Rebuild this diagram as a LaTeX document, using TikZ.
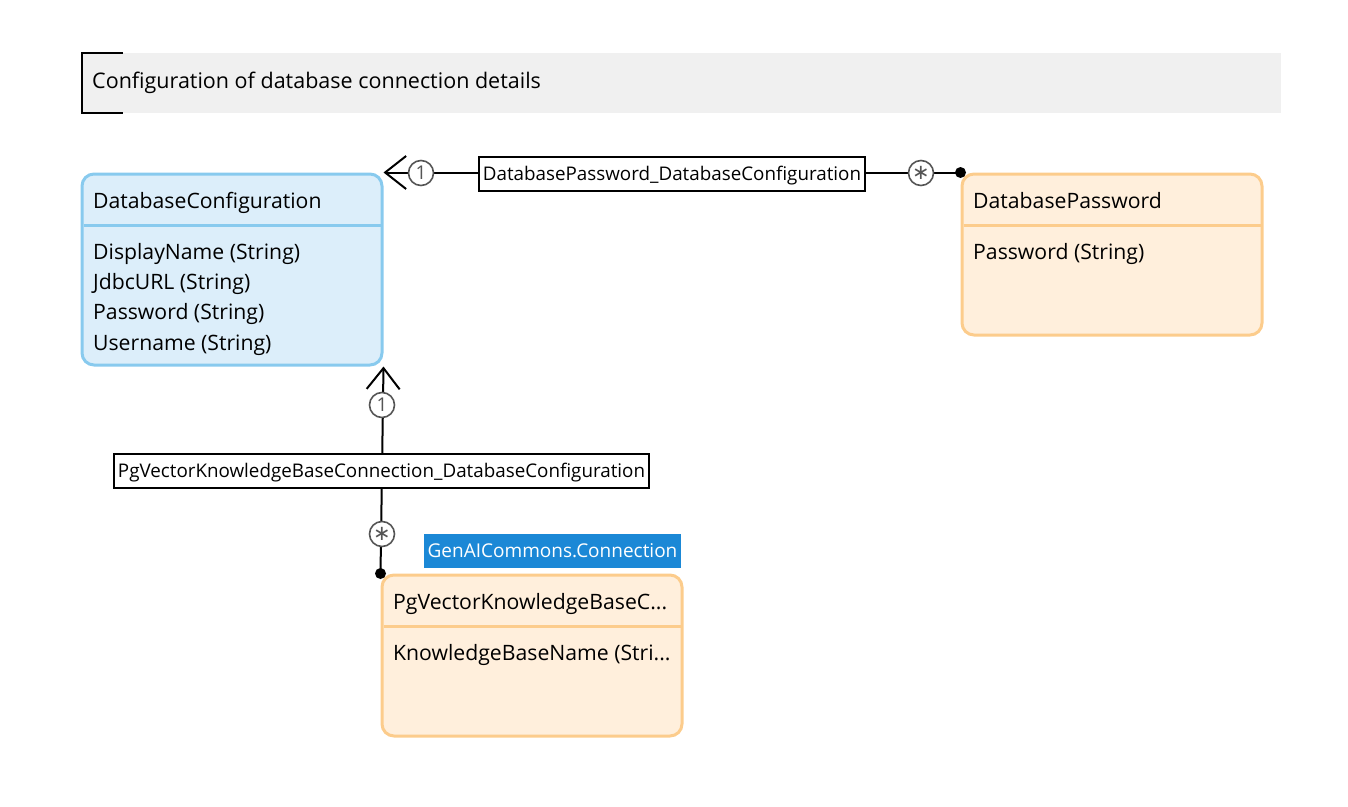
\documentclass[tikz,border=0pt]{standalone}
\usepackage{fontspec}
\setmainfont{Open Sans}
\newfontfamily\symfont{DejaVu Sans}
\usetikzlibrary{arrows.meta}
\definecolor{bluefill}{HTML}{DCEEFA}
\definecolor{blueline}{HTML}{88CAEE}
\definecolor{orangefill}{HTML}{FFEFDC}
\definecolor{orangeline}{HTML}{FCCC8C}
\definecolor{bandgray}{HTML}{F0F0F0}
\definecolor{multgray}{HTML}{555555}
\definecolor{tagblue}{HTML}{1B88D6}
\begin{document}
\begin{tikzpicture}[x=1pt,y=-1pt,
  entity/.style={draw, rounded corners=12pt, line width=3pt, minimum width=300pt, inner sep=0pt},
  bluebox/.style={entity, fill=bluefill, draw=blueline},
  orangebox/.style={entity, fill=orangefill, draw=orangeline},
  etext/.style={anchor=base west, inner sep=0pt, font=\fontsize{21.2}{21.2}\selectfont},
  conn/.style={line width=2pt, black},
  mult/.style={circle, draw=multgray, fill=white, line width=1.6pt, minimum size=25pt, inner sep=0pt, text=multgray, font=\fontsize{19}{19}\selectfont},
  lbl/.style={draw, line width=1.5pt, fill=white, inner xsep=4pt, inner ysep=0pt, minimum height=34pt, text height=17pt, text depth=3.6pt, font=\fontsize{18.8}{18.8}\selectfont},
  barbtip/.tip={Straight Barb[length=21pt,width=33pt,line width=2pt]}
]
\useasboundingbox (0,0) rectangle (1348,806);

% title band
\fill[bandgray] (82,53) rectangle (1281,113);
\draw[line width=2pt] (123,53) -- (82,53) -- (82,113) -- (123,113);
\node[anchor=base west, inner sep=0pt, font=\fontsize{21.5}{21.5}\selectfont] (title) at (92,88) {Configuration of database connection details};

% entities
\node[bluebox, minimum height=191pt] (dbc) at (232,269.5) {};
\draw[blueline, line width=3pt] (83.5,225) -- (380.5,225);
\node[etext] (dbch) at (93,208) {DatabaseConfiguration};
\node[etext] (dbca1) at (93,259) {DisplayName (String)};
\node[etext] (dbca2) at (93,289) {JdbcURL (String)};
\node[etext] (dbca3) at (93,319) {Password (String)};
\node[etext] (dbca4) at (93,350) {Username (String)};

\node[orangebox, minimum height=161pt] (dbp) at (1112,254.5) {};
\draw[orangeline, line width=3pt] (963.5,225) -- (1260.5,225);
\node[etext] (dbph) at (973,208) {DatabasePassword};
\node[etext] (dbpa1) at (973,259) {Password (String)};

\node[orangebox, minimum height=161pt] (pgv) at (532,655.5) {};
\draw[orangeline, line width=3pt] (383.5,626) -- (680.5,626);
\node[etext] (pgvh) at (393,609) {PgVectorKnowledgeBaseC...};
\node[etext] (pgva1) at (393,660) {KnowledgeBaseName (Stri...};

\node[fill=tagblue, text=white, minimum width=257pt, minimum height=34pt, inner sep=0pt, text height=17pt, text depth=3.6pt, font=\fontsize{19}{19}\selectfont] (tag) at (552.5,551) {GenAICommons.Connection};

% connector 1
\draw[conn, barbtip-] (dbc.north east) -- (dbp.north west);
\fill (dbp.north west) circle (5.5pt);
\node[mult] (m1a) at (421,173) {1};
\node[mult] (m1b) at (921,173) {\symfont\fontsize{21}{21}\selectfont ∗};
\node[lbl] (l1) at (672,174) {DatabasePassword\_DatabaseConfiguration};

% connector 2
\draw[conn, barbtip-] (dbc.south east) -- (pgv.north west);
\fill (pgv.north west) circle (5.5pt);
\node[mult] (m2a) at (382,405) {1};
\node[mult] (m2b) at (382,534) {\symfont\fontsize{21}{21}\selectfont ∗};
\node[lbl] (l2) at (381.5,471) {PgVectorKnowledgeBaseConnection\_DatabaseConfiguration};
\end{tikzpicture}
\end{document}
